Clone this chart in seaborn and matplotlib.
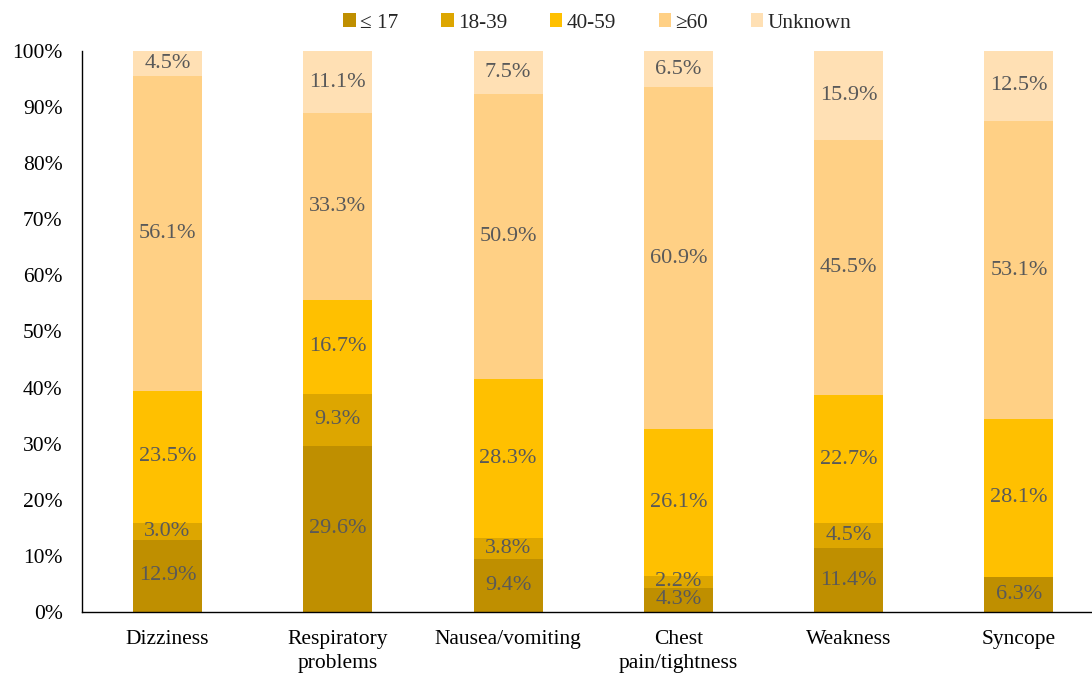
import matplotlib
matplotlib.use("Agg")
import matplotlib.pyplot as plt
import seaborn as sns
import numpy as np
import pandas as pd
from matplotlib.patches import Patch

categories = ["Dizziness", "Respiratory\nproblems", "Nausea/vomiting",
              "Chest\npain/tightness", "Weakness", "Syncope"]
age_groups = ["\u2264 17", "18-39", "40-59", "\u226560", "Unknown"]
le17 = [12.9, 29.6, 9.4, 4.3, 11.4, 6.3]
a18_39 = [3.0, 9.3, 3.8, 2.2, 4.5, 0.0]
a40_59 = [23.5, 16.7, 28.3, 26.1, 22.7, 28.1]
ge60 = [56.1, 33.3, 50.9, 60.9, 45.5, 53.1]
unknown = [4.5, 11.1, 7.5, 6.5, 15.9, 12.5]
colors = ["#BF8F00", "#DDA600", "#FFC000", "#FFD085", "#FFE0B4"]

series = [le17, a18_39, a40_59, ge60, unknown]

sns.set_theme(style="white")
plt.rcParams["font.family"] = ["Liberation Serif", "DejaVu Serif"]

fig = plt.figure(figsize=(10.92, 6.76), dpi=100)
ax = fig.add_axes([0.0751, 0.0947, 0.9249, 0.830])

vals = np.array(series)
cum = np.cumsum(vals, axis=0)
# draw from top layer down so lower layers overlay
for i in range(len(series) - 1, -1, -1):
    df = pd.DataFrame({"cat": categories, "val": cum[i]})
    sns.barplot(data=df, x="cat", y="val", order=categories, color=colors[i],
                width=0.405, saturation=1, ax=ax, zorder=2 + (len(series) - i),
                linewidth=0)

# value labels
for i, s in enumerate(series):
    for j, v in enumerate(s):
        if v <= 0:
            continue
        y = cum[i][j] - v / 2
        ax.text(j, y, f"{v:.1f}%", ha="center", va="center", fontsize=16,
                color="#595959", zorder=20)

ax.set_xlim(-0.502, 5.429)
ax.set_ylim(0, 100)
ax.set_yticks(np.arange(0, 101, 10))
ax.set_yticklabels([f"{t}%" for t in range(0, 101, 10)])
ax.set_xlabel("")
ax.set_ylabel("")
ax.tick_params(axis="y", length=0, pad=14, labelsize=15.5, labelcolor="black")
ax.tick_params(axis="x", length=0, pad=13, labelsize=15.5, labelcolor="black")
for lbl in ax.get_xticklabels():
    lbl.set_linespacing(1.35)
for sp in ["top", "right"]:
    ax.spines[sp].set_visible(False)
for sp in ["left", "bottom"]:
    ax.spines[sp].set_color("black")
    ax.spines[sp].set_linewidth(1.0)
ax.spines["left"].set_zorder(30)
ax.spines["bottom"].set_zorder(30)

handles = [Patch(facecolor=c, edgecolor="none") for c in colors]
fig.legend(handles, age_groups, loc="center", bbox_to_anchor=(0.547, 0.966),
           ncol=5, frameon=False, fontsize=15.3, handlelength=0.6,
           handleheight=0.6, handletextpad=0.2, columnspacing=2.0)

fig.savefig("out.png", dpi=100)
